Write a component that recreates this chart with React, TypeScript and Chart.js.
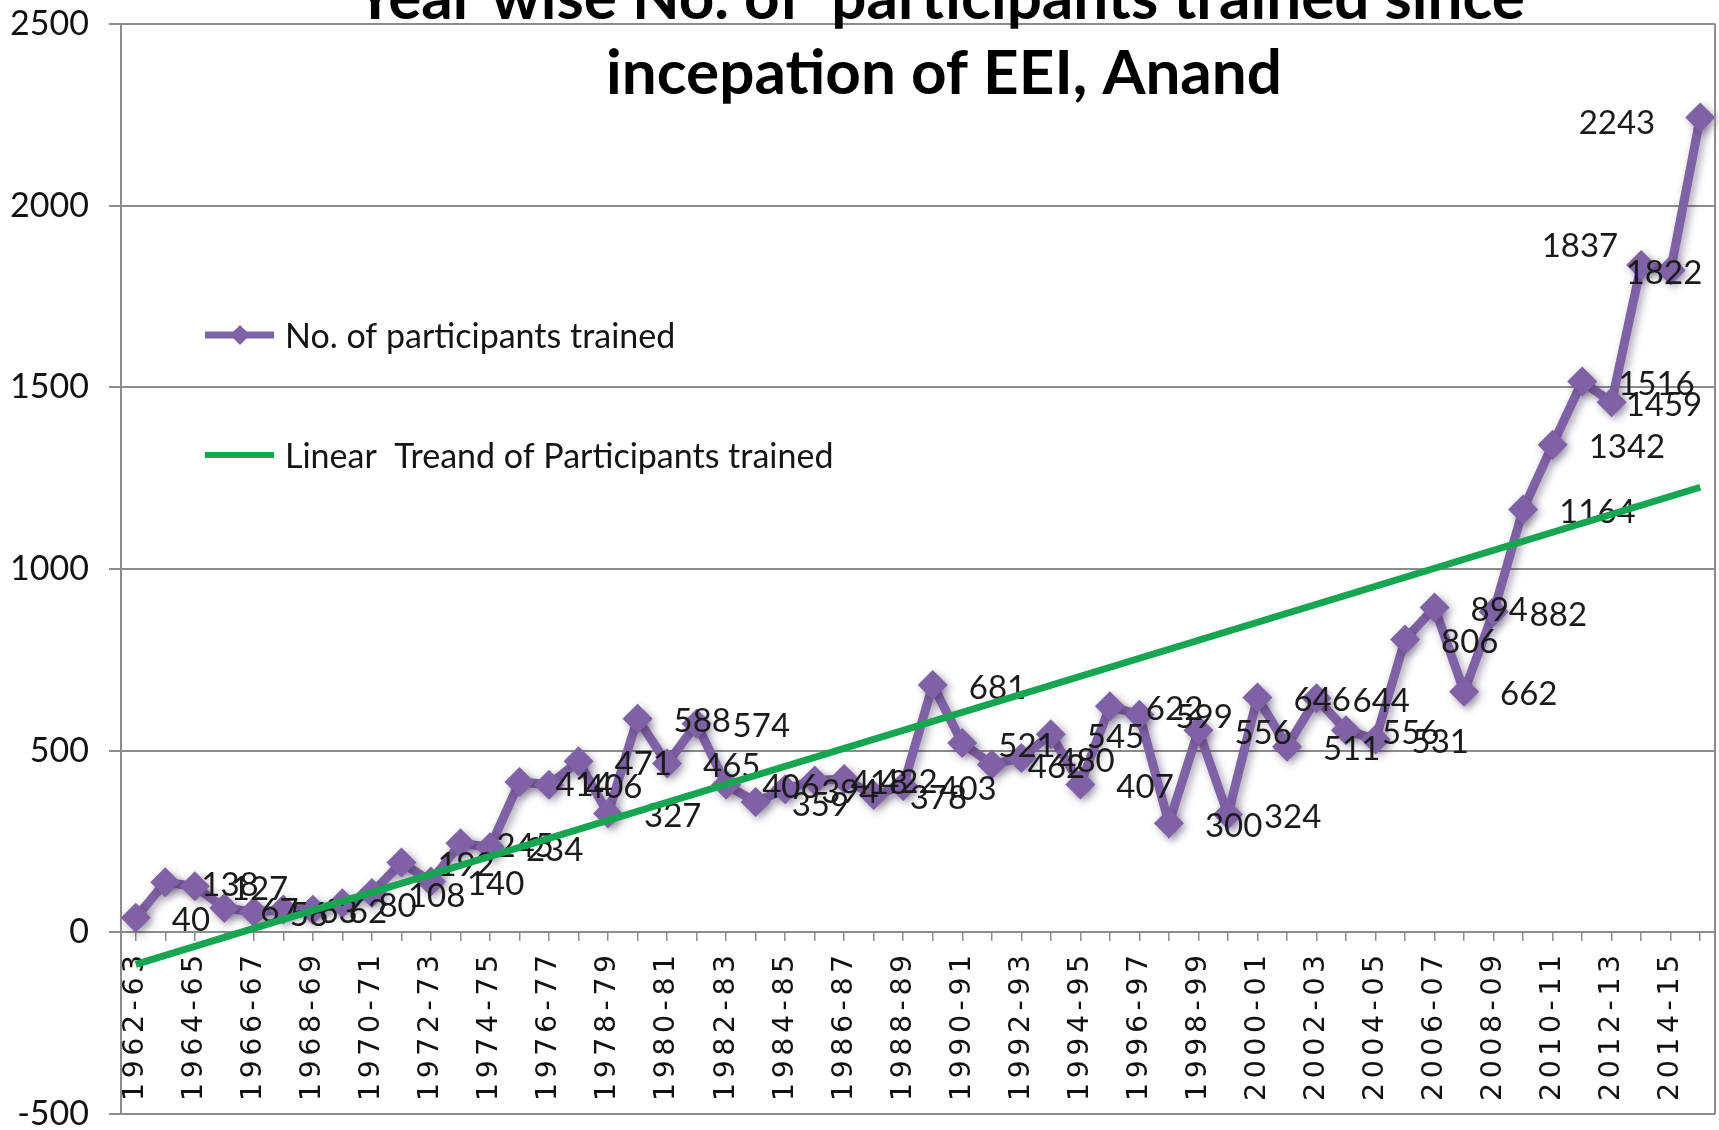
import React, { useEffect, useRef } from 'react';
import { Chart, registerables, CategoryScale } from 'chart.js';

Chart.register(...registerables);

// ---------------- data ----------------
const seasons = [
  '1962-63', '1963-64', '1964-65', '1965-66', '1966-67', '1967-68', '1968-69', '1969-70',
  '1970-71', '1971-72', '1972-73', '1973-74', '1974-75', '1975-76', '1976-77', '1977-78',
  '1978-79', '1979-80', '1980-81', '1981-82', '1982-83', '1983-84', '1984-85', '1985-86',
  '1986-87', '1987-88', '1988-89', '1989-90', '1990-91', '1991-92', '1992-93', '1993-94',
  '1994-95', '1995-96', '1996-97', '1997-98', '1998-99', '1999-00', '2000-01', '2001-02',
  '2002-03', '2003-04', '2004-05', '2005-06', '2006-07', '2007-08', '2008-09', '2009-10',
  '2010-11', '2011-12', '2012-13', '2013-14', '2014-15', '2015-16',
];

const participants = [
  40, 138, 127, 67, 56, 63, 62, 80, 108, 192,
  140, 245, 234, 414, 406, 471, 327, 588, 465, 574,
  406, 359, 394, 418, 422, 378, 403, 681, 521, 462,
  480, 545, 407, 622, 599, 300, 556, 324, 646, 511,
  644, 556, 531, 806, 894, 662, 882, 1164, 1342, 1516,
  1459, 1837, 1822, 2243,
];

// end points of the linear trend line
const trendStart = -88;
const trendEnd = 1225;

const yTickMin = -500;
const yTickMax = 2500;
const yTickStep = 500;

const seriesName = 'No. of participants trained';
const trendName = 'Linear  Treand of Participants trained';
const titleLines = ['Year wise No. of  participants trained since', 'incepation of EEI, Anand'];

// ---------------- styles ----------------
const PURPLE = '#7F62A5';
const GREEN = '#16A651';
const GRID = '#8C8C8C';
const X_LABEL_SPACING = '4.5px';

// label placement tweaks (style only)
const LABEL_DEFAULT = { dx: 36, dy: 3, align: 'left' };
const LABEL_ADJUST: Record<number, { dx: number; dy: number; align: string }> = {
  50: { dx: 14, dy: 3, align: 'left' },
  51: { dx: -23, dy: -19, align: 'right' },
  52: { dx: -45, dy: 3, align: 'left' },
  53: { dx: -45, dy: 6, align: 'right' },
};

class SpacedCategoryScale extends CategoryScale {
  static id = 'spacedCategory';
  static defaults = { ...(CategoryScale as any).defaults };
  drawLabels(chartArea: any) {
    const ctx = (this as any).ctx;
    ctx.save();
    ctx.letterSpacing = X_LABEL_SPACING;
    // @ts-ignore
    super.drawLabels(chartArea);
    ctx.restore();
  }
}
Chart.register(SpacedCategoryScale as any);

const decor = {
  id: 'decor',
  beforeDatasetDraw(chart: any, args: any) {
    if (args.index !== 0) return;
    const c = chart.ctx;
    c.save();
    c.shadowColor = 'rgba(40,20,60,0.4)';
    c.shadowBlur = 8;
    c.shadowOffsetX = 3;
    c.shadowOffsetY = 3;
  },
  afterDatasetDraw(chart: any, args: any) {
    if (args.index !== 0) return;
    const c = chart.ctx;
    c.restore();
    const meta = chart.getDatasetMeta(0);
    c.save();
    c.font = '33px Lato';
    c.fillStyle = '#1a1a1a';
    c.textBaseline = 'middle';
    meta.data.forEach((pt: any, i: number) => {
      const adj = LABEL_ADJUST[i] || LABEL_DEFAULT;
      c.textAlign = adj.align;
      c.fillText(String(participants[i]), pt.x + adj.dx, pt.y + adj.dy);
    });
    c.restore();
  },
  afterDraw(chart: any) {
    const c = chart.ctx;
    const a = chart.chartArea;
    c.save();
    // right border of plot area
    c.strokeStyle = GRID;
    c.lineWidth = 2;
    c.beginPath();
    c.moveTo(a.right, a.top);
    c.lineTo(a.right, a.bottom);
    c.stroke();

    // legend inside plot
    const rows = [335, 455];
    chart.data.datasets.forEach((ds: any, i: number) => {
      const y = rows[i];
      c.strokeStyle = ds.borderColor;
      c.lineWidth = i === 0 ? 7 : 6;
      c.beginPath();
      c.moveTo(205, y);
      c.lineTo(274, y);
      c.stroke();
      if (i === 0) {
        c.fillStyle = ds.borderColor;
        c.beginPath();
        c.moveTo(240, y - 10);
        c.lineTo(250, y);
        c.lineTo(240, y + 10);
        c.lineTo(230, y);
        c.closePath();
        c.fill();
      }
      c.fillStyle = '#141414';
      c.font = '34px Lato';
      c.textAlign = 'left';
      c.textBaseline = 'alphabetic';
      c.fillText(ds.label, 285, y + 13);
    });

    // title (first line partly above the picture, as in the reference)
    c.fillStyle = '#000';
    c.font = 'bold 62px Lato';
    c.textAlign = 'center';
    c.textBaseline = 'alphabetic';
    c.fillText(titleLines[0], 940, 19);
    c.fillText(titleLines[1], 944, 94);
    c.restore();
  },
};

const App = () => {
  const ref = useRef<HTMLCanvasElement>(null);
  useEffect(() => {
    const canvas = ref.current;
    if (!canvas) return;
    const last = seasons.length - 1;
    const trendData = seasons.map((_, i) => (i === 0 ? trendStart : i === last ? trendEnd : null));
    const chart = new Chart(canvas, {
      type: 'line',
      data: {
        labels: seasons,
        datasets: [
          {
            label: seriesName,
            data: participants,
            borderColor: PURPLE,
            backgroundColor: PURPLE,
            borderWidth: 9,
            pointStyle: 'rectRot',
            pointRadius: 15,
            pointBackgroundColor: PURPLE,
            pointBorderColor: PURPLE,
            pointBorderWidth: 0,
            tension: 0,
            order: 1,
          },
          {
            label: trendName,
            data: trendData,
            borderColor: GREEN,
            backgroundColor: GREEN,
            borderWidth: 7,
            pointRadius: 0,
            spanGaps: true,
            order: 0,
          },
        ],
      } as any,
      options: {
        responsive: false,
        animation: false,
        events: [],
        layout: { padding: { left: 0, top: 24, right: 2, bottom: 16 } },
        plugins: {
          legend: { display: false },
          title: { display: false },
          tooltip: { enabled: false },
        },
        scales: {
          x: {
            type: 'spacedCategory',
            position: { y: 0 },
            offset: true,
            grid: { drawOnChartArea: false, drawTicks: true, tickLength: 8, color: GRID, lineWidth: 1.5 },
            border: { display: true, color: GRID, width: 2 },
            ticks: {
              autoSkip: false,
              maxRotation: 90,
              minRotation: 90,
              padding: 10,
              color: '#111',
              font: { family: 'DejaVu Sans', size: 28.5 },
              callback: (_v: any, i: number) => (i % 2 === 0 ? seasons[i] : ''),
            },
            afterFit: (s: any) => {
              s.paddingLeft = 0;
              s.paddingRight = 0;
            },
          },
          y: {
            min: yTickMin,
            max: yTickMax,
            grid: { color: GRID, lineWidth: 2, tickLength: 12 },
            border: { display: true, color: GRID, width: 2 },
            ticks: {
              stepSize: yTickStep,
              padding: 20,
              color: '#111',
              font: { family: 'Lato', size: 34 },
              callback: (v: any) => String(v),
            },
            afterFit: (s: any) => {
              s.width = 121;
              s.paddingTop = 0;
              s.paddingBottom = 0;
            },
          },
        },
      } as any,
      plugins: [decor],
    });
    return () => chart.destroy();
  }, []);
  return (
    <div style={{ position: 'absolute', left: 0, top: 0, width: 1719, height: 1130, background: '#fff', overflow: 'hidden' }}>
      <canvas ref={ref} width={1730} height={1130} style={{ display: 'block' }} />
    </div>
  );
};

export default App;
